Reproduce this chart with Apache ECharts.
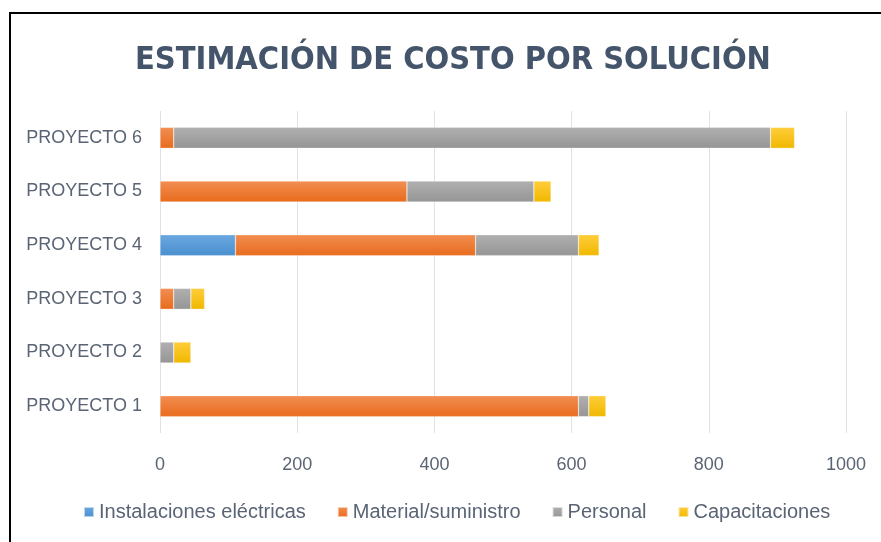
<!DOCTYPE html>
<html>
<head>
<meta charset="utf-8">
<script src="https://cdn.jsdelivr.net/npm/echarts@6/dist/echarts.min.js"></script>
<style>
html,body{margin:0;padding:0;background:#fff;}
#c{width:881px;height:542px;}
</style>
</head>
<body>
<div id="c"></div>
<script>
const categories = ['PROYECTO 1','PROYECTO 2','PROYECTO 3','PROYECTO 4','PROYECTO 5','PROYECTO 6'];
const seriesNames = ['Instalaciones eléctricas','Material/suministro','Personal','Capacitaciones'];
const instalaciones = [0, 0, 0, 110, 0, 0];
const material = [610, 0, 20, 350, 360, 20];
const personal = [15, 20, 25, 150, 185, 870];
const capacitaciones = [25, 25, 20, 30, 25, 35];
const xTicks = [0, 200, 400, 600, 800, 1000];

const FONT = "'Liberation Sans', sans-serif";
const TFONT = "'DejaVu Sans Condensed', 'Liberation Sans', sans-serif";
const TXT = '#5a6474';
function grad(top, bottom){
  return new echarts.graphic.LinearGradient(0,0,0,1,[{offset:0,color:top},{offset:1,color:bottom}]);
}
const colors = [
  grad('#6aa8e0','#4a8fd0'),
  grad('#f28e52','#e86b1c'),
  grad('#b0b0b0','#959595'),
  grad('#ffcd3a','#f0b800')
];
const dataSets = [instalaciones, material, personal, capacitaciones];

const chart = echarts.init(document.getElementById('c'), null, {renderer:'canvas'});
chart.setOption({
  animation:false,
  backgroundColor:'#fff',
  title:{
    text:'ESTIMACIÓN DE COSTO POR SOLUCIÓN',
    left:130, top:40,
    textStyle:{fontFamily:TFONT, fontWeight:'bold', fontSize:32.3, color:'#44546a'}
  },
  graphic:[{
    type:'rect', shape:{x:10, y:13, width:900, height:600},
    style:{fill:'none', stroke:'#000', lineWidth:2}, silent:true, z:100
  }],
  legend:{
    bottom:15, left:78,
    itemWidth:10, itemHeight:10, itemGap:31, icon:'rect',
    textStyle:{fontFamily:FONT, fontSize:20, color:TXT},
    data:seriesNames
  },
  grid:{left:160, right:35, top:111, bottom:109, containLabel:false},
  xAxis:{
    type:'value', min:0, max:1000, interval:200,
    axisLine:{show:false}, axisTick:{show:false},
    splitLine:{lineStyle:{color:'#dfe2e8', width:1}},
    axisLabel:{fontFamily:FONT, fontSize:18, color:TXT, margin:23,
      formatter:function(v){return xTicks.indexOf(v)>=0 ? String(v) : '';}}
  },
  yAxis:{
    type:'category', data:categories,
    axisLine:{show:false}, axisTick:{show:false},
    axisLabel:{fontFamily:FONT, fontSize:18, color:TXT, margin:18}
  },
  series: seriesNames.map((n,i)=>({
    name:n, type:'bar', stack:'total', data:dataSets[i],
    barWidth:'39%',
    itemStyle:{color:colors[i], borderColor:'rgba(255,255,255,0.6)', borderWidth:0.5}
  }))
});
</script>
</body>
</html>
